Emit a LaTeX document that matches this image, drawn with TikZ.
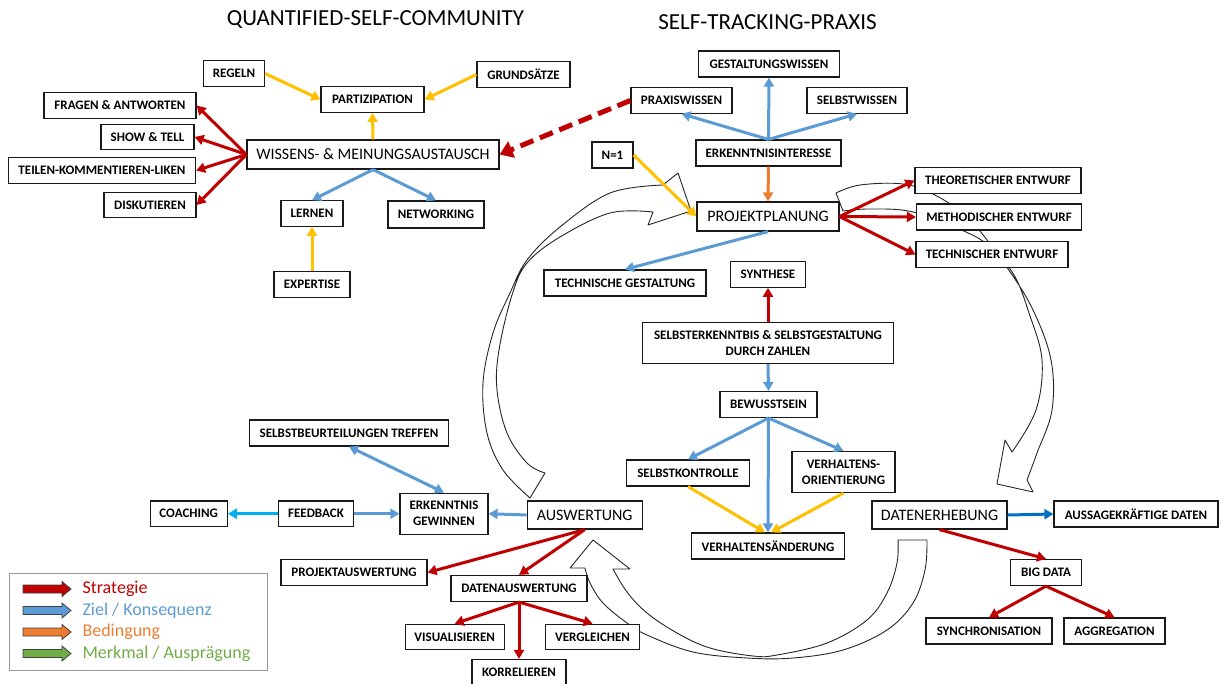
\documentclass[tikz,border=0pt]{standalone}
\usepackage{fontspec}
\setmainfont{Carlito}
\usetikzlibrary{arrows.meta}
\definecolor{cred}{HTML}{C00000}
\definecolor{cblue}{HTML}{5B9BD5}
\definecolor{cyel}{HTML}{FFC000}
\definecolor{cora}{HTML}{ED7D31}
\definecolor{cgreen}{HTML}{70AD47}
\definecolor{ccyan}{HTML}{00B0F0}
\definecolor{cdblue}{HTML}{0070C0}
\tikzset{
  bx/.style={draw=black!90, line width=1.2pt, fill=white, font=\bfseries\fontsize{13}{16}\selectfont, minimum height=25.5pt, inner sep=1pt, align=center},
  big/.style={bx, font=\fontsize{16}{18}\selectfont, minimum height=29pt},
  ar/.style={line width=3pt, -{Triangle[length=9pt,width=10pt]}},
  sred/.style={ar, draw=cred, fill=cred},
  sblue/.style={ar, draw=cblue, fill=cblue},
  syel/.style={ar, draw=cyel, fill=cyel},
  sora/.style={ar, draw=cora, fill=cora},
  scyan/.style={ar, draw=ccyan, fill=ccyan},
  sdblue/.style={ar, draw=cdblue, fill=cdblue},
  bigarr/.style={draw=black!85, line width=0.9pt, fill=white, line join=round},
  legarr/.style={draw=black!75, line width=0.8pt, line join=miter},
  legtxt/.style={anchor=west, font=\fontsize{18}{20}\selectfont},
  ttl/.style={font=\fontsize{23}{26}\selectfont}
}
\begin{document}
\begin{tikzpicture}[x=1pt,y=-1pt]
\useasboundingbox (0,0) rectangle (1224,683);
% ---- big curved arrows ----
\draw[bigarr] plot[smooth, tension=0.6] coordinates {(530,498) (503,470) (487,433) (483,383) (493,333) (510,293) (527,260) (560,227) (610,193) (663,185)}
  -- (678,173) -- (691,211) -- (648,225) -- (653,212)
  -- plot[smooth, tension=0.6] coordinates {(653,212) (610,213) (560,237) (527,263) (512,295) (499,350) (497,390) (507,433) (527,463) (545,473)} -- cycle;
\draw[bigarr] plot[smooth, tension=0.6] coordinates {(836,193) (860,185) (903,184) (935,195) (970,220) (1006,266) (1033,310) (1051,360) (1052,410) (1037,453) (1027,480)}
  -- (1033,492) -- (997,484) -- (1005,440) -- (1012,452)
  -- plot[smooth, tension=0.6] coordinates {(1012,452) (1036,410) (1042,360) (1029,313) (1014,275) (990,247) (966,232) (913,212) (870,209) (843,211)} -- cycle;
\draw[bigarr] plot[smooth, tension=0.6] coordinates {(927,540) (925,570) (913,603) (887,630) (843,650) (793,658) (747,658) (693,652) (647,635) (627,623) (603,603) (590,583) (585,568)}
  -- (570,568) -- (593,540) -- (630,569) -- (613,569)
  -- plot[smooth, tension=0.6] coordinates {(613,569) (627,592) (647,613) (677,633) (710,648) (753,656) (777,655) (827,643) (867,620) (887,593) (897,563) (898,540)} -- cycle;
% ---- titles ----
\node[ttl] (t1) at (375.5,20) {QUANTIFIED-SELF-COMMUNITY};
\node[ttl] (t2) at (767.5,22) {SELF-TRACKING-PRAXIS};
% ---- community ----
\node[bx, minimum width=61] (regeln) at (234,73.5) {REGELN};
\node[bx, minimum width=103] (partiz) at (372.5,99.5) {PARTIZIPATION};
\node[bx, minimum width=93] (grund) at (523.5,74.5) {GRUNDSÄTZE};
\node[bx, minimum width=152] (fragen) at (120,105.5) {FRAGEN \& ANTWORTEN};
\node[bx, minimum width=93] (show) at (147.5,137) {SHOW \& TELL};
\node[bx, minimum width=187] (teilen) at (102,170.5) {TEILEN-KOMMENTIEREN-LIKEN};
\node[bx, minimum width=92] (disk) at (150,205) {DISKUTIEREN};
\node[big, minimum width=252] (wissen) at (373,154.5) {WISSENS- \& MEINUNGSAUSTAUSCH};
\node[bx, minimum width=62] (lernen) at (312,213.5) {LERNEN};
\node[bx, minimum width=96, minimum height=27] (netw) at (436,214.5) {NETWORKING};
\node[bx, minimum width=76] (exp) at (312,284.5) {EXPERTISE};
% ---- praxis top ----
\node[bx, minimum width=141, minimum height=26] (gestw) at (769,64) {GESTALTUNGSWISSEN};
\node[bx, minimum width=101] (praxw) at (681.5,100.5) {PRAXISWISSEN};
\node[bx, minimum width=100] (selbstw) at (857,100.5) {SELBSTWISSEN};
\node[bx, minimum width=145, minimum height=26] (erkint) at (768.5,153) {ERKENNTNISINTERESSE};
\node[bx, minimum width=41, minimum height=26] (n1) at (612.5,155) {N=1};
\node[big, minimum width=142] (projekt) at (768,216.5) {PROJEKTPLANUNG};
\node[bx, minimum width=166] (theo) at (998,180.5) {THEORETISCHER ENTWURF};
\node[bx, minimum width=165, minimum height=26] (meth) at (999,217) {METHODISCHER ENTWURF};
\node[bx, minimum width=152] (techent) at (992,254.5) {TECHNISCHER ENTWURF};
\node[bx, minimum width=162, minimum height=26] (techgest) at (625,283) {TECHNISCHE GESTALTUNG};
\node[bx, minimum width=75] (synth) at (768,274.5) {SYNTHESE};
% ---- middle ----
\node[bx, minimum width=251, minimum height=41] (selbsterk) at (768,343) {SELBSTERKENNTBIS \& SELBSTGESTALTUNG\\DURCH ZAHLEN};
\node[bx, minimum width=97, minimum height=26] (bewusst) at (768.5,404.5) {BEWUSSTSEIN};
\node[bx, minimum width=123, minimum height=26] (selbstk) at (688,473) {SELBSTKONTROLLE};
\node[bx, minimum width=103, minimum height=41] (verhor) at (843.5,472) {VERHALTENS-\\ORIENTIERUNG};
\node[bx, minimum width=153, minimum height=26] (verhaend) at (768,546) {VERHALTENSÄNDERUNG};
% ---- right bottom ----
\node[big, minimum width=135, minimum height=28] (datenerh) at (939.5,515) {DATENERHEBUNG};
\node[bx, minimum width=164, minimum height=26] (aussage) at (1136,514) {AUSSAGEKRÄFTIGE DATEN};
\node[bx, minimum width=71, minimum height=26] (bigdata) at (1046,572.5) {BIG DATA};
\node[bx, minimum width=126, minimum height=26] (synchr) at (989,631) {SYNCHRONISATION};
\node[bx, minimum width=101, minimum height=26] (aggr) at (1114.5,631) {AGGREGATION};
% ---- left bottom ----
\node[bx, minimum width=199, minimum height=26] (selbstbeurt) at (349,433) {SELBSTBEURTEILUNGEN TREFFEN};
\node[bx, minimum width=77] (coach) at (188.7,513.7) {COACHING};
\node[bx, minimum width=75] (feedback) at (316,513.7) {FEEDBACK};
\node[bx, minimum width=88, minimum height=41] (erkgew) at (444,513.7) {ERKENNTNIS\\GEWINNEN};
\node[big, minimum width=115, minimum height=28] (ausw) at (584.7,515) {AUSWERTUNG};
\node[bx, minimum width=146] (projausw) at (354,572.5) {PROJEKTAUSWERTUNG};
\node[bx, minimum width=136, minimum height=26] (datenausw) at (519,588.5) {DATENAUSWERTUNG};
\node[bx, minimum width=99] (visual) at (454.7,637) {VISUALISIEREN};
\node[bx, minimum width=94] (vergl) at (592.6,637) {VERGLEICHEN};
\node[bx, minimum width=94, minimum height=26] (korrel) at (519,672.5) {KORRELIEREN};
% ---- connectors community ----
\draw[syel] (regeln.east) -- (partiz.west);
\draw[syel] (grund.west) -- (partiz.east);
\draw[syel] (wissen.north) -- (partiz.south);
\draw[sred] (wissen.west) -- (fragen.east);
\draw[sred] (wissen.west) -- (show.east);
\draw[sred] (wissen.west) -- (teilen.east);
\draw[sred] (wissen.west) -- (disk.east);
\draw[sblue] (wissen.south) -- (lernen.north);
\draw[sblue] (wissen.south) -- (netw.north);
\draw[syel] (exp.north) -- (lernen.south);
\draw[cred, line width=5pt, dash pattern=on 14pt off 7pt, -{Triangle[length=13pt,width=17pt]}] (praxw.west) -- (wissen.east);
% ---- connectors praxis ----
\draw[sblue] (erkint.north) -- (praxw.south);
\draw[sblue] (erkint.north) -- (gestw.south);
\draw[sblue] (erkint.north) -- (selbstw.south);
\draw[sora] (erkint.south) -- (projekt.north);
\draw[syel] (n1.east) -- (projekt.west);
\draw[sred] (projekt.east) -- (theo.west);
\draw[sred] (projekt.east) -- (meth.west);
\draw[sred] (projekt.east) -- (techent.west);
\draw[sblue] (projekt.south) -- (techgest.north);
\draw[sred] (selbsterk.north) -- (synth.south);
\draw[sblue] (selbsterk.south) -- (bewusst.north);
\draw[sblue] (bewusst.south) -- (selbstk.north);
\draw[sblue] (bewusst.south) -- (verhaend.north);
\draw[sblue] (bewusst.south) -- (verhor.north);
\draw[syel] (selbstk.south) -- ([xshift=-3pt]verhaend.north);
\draw[syel] (verhor.south) -- ([xshift=3pt]verhaend.north);
\draw[sdblue] (datenerh.east) -- (aussage.west);
\draw[sred] (datenerh.south) -- (bigdata.north);
\draw[sred] (bigdata.south) -- (synchr.north);
\draw[sred] (bigdata.south) -- (aggr.north);
\draw[sblue] (ausw.west) -- (erkgew.east);
\draw[sblue] (feedback.east) -- (erkgew.west);
\draw[scyan] (feedback.west) -- (coach.east);
\draw[sblue, {Triangle[length=9pt,width=10pt]}-{Triangle[length=9pt,width=10pt]}] (erkgew.north) -- (selbstbeurt.south);
\draw[sred] (ausw.south) -- (projausw.east);
\draw[sred] (ausw.south) -- (datenausw.north);
\draw[sred] (datenausw.south) -- (visual.north);
\draw[sred] (datenausw.south) -- (korrel.north);
\draw[sred] (datenausw.south) -- (vergl.north);
% ---- legend ----
\node[draw=black!40, line width=1pt, minimum width=258, minimum height=97, anchor=north west, inner sep=0pt] (legend) at (8.5,573) {};
\draw[legarr, fill=cred, shift={(0,589)}] (23,-4) -- (62,-4) -- (62,-7.5) -- (71,0) -- (62,7.5) -- (62,4) -- (23,4) -- cycle;
\draw[legarr, fill=cblue, shift={(0,610.5)}] (23,-4) -- (62,-4) -- (62,-7.5) -- (71,0) -- (62,7.5) -- (62,4) -- (23,4) -- cycle;
\draw[legarr, fill=cora, shift={(0,632)}] (23,-4) -- (62,-4) -- (62,-7.5) -- (71,0) -- (62,7.5) -- (62,4) -- (23,4) -- cycle;
\draw[legarr, fill=cgreen, shift={(0,653.5)}] (23,-4) -- (62,-4) -- (62,-7.5) -- (71,0) -- (62,7.5) -- (62,4) -- (23,4) -- cycle;
\node[legtxt, text=cred] (lg1) at (79,589) {Strategie};
\node[legtxt, text=cblue] (lg2) at (79,610.5) {Ziel / Konsequenz};
\node[legtxt, text=cora] (lg3) at (79,632) {Bedingung};
\node[legtxt, text=cgreen] (lg4) at (79,653.5) {Merkmal / Ausprägung};
\end{tikzpicture}
\end{document}
